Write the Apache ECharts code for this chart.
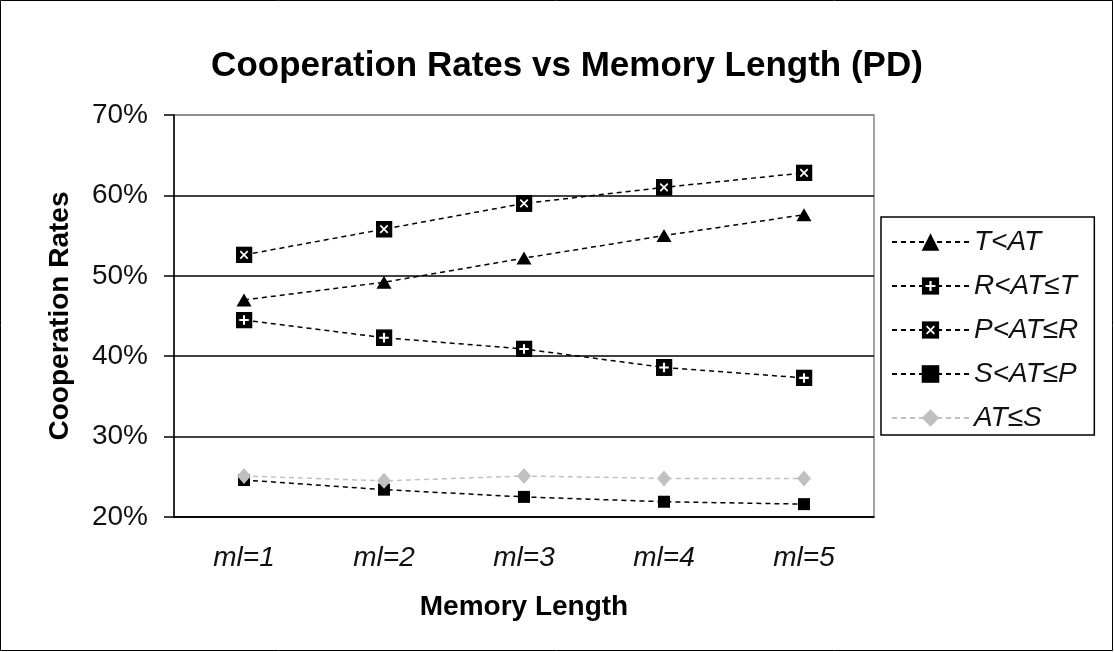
<!DOCTYPE html>
<html><head><meta charset="utf-8">
<script src="https://cdn.jsdelivr.net/npm/echarts@6/dist/echarts.min.js"></script>
<style>html,body{margin:0;padding:0;background:#fff}#c{width:1114px;height:652px}</style>
</head><body><div id="c"></div>
<script>
const categories = ['ml=1','ml=2','ml=3','ml=4','ml=5'];
const seriesNames = ['T<AT','R<AT≤T','P<AT≤R','S<AT≤P','AT≤S'];
const tValues = [47.0, 49.2, 52.2, 55.0, 57.6];
const rValues = [44.5, 42.3, 40.9, 38.6, 37.3];
const pValues = [52.6, 55.8, 59.0, 61.0, 62.8];
const sValues = [24.6, 23.4, 22.5, 21.9, 21.6];
const atValues = [25.1, 24.5, 25.1, 24.8, 24.8];
const yTicks = [20, 30, 40, 50, 60, 70];

const svg = s => 'image://data:image/svg+xml;charset=utf-8,' + encodeURIComponent(s);
const plusSym = svg("<svg xmlns='http://www.w3.org/2000/svg' width='16' height='16'><rect width='16' height='16' fill='black'/><path d='M8 3.5V12.5M3.5 8H12.5' stroke='white' stroke-width='2'/></svg>");
const crossSym = svg("<svg xmlns='http://www.w3.org/2000/svg' width='16' height='16'><rect width='16' height='16' fill='black'/><path d='M4.5 4.5L11.5 11.5M11.5 4.5L4.5 11.5' stroke='white' stroke-width='1.6'/></svg>");

const font = 'Liberation Sans, Arial, sans-serif';
const chart = echarts.init(document.getElementById('c'));
const dash = [5, 4];
function mk(name, data, symbol, size, color) {
  return {
    name, type: 'line', data, symbol, symbolSize: size,
    lineStyle: {color, width: 1.5, type: dash},
    itemStyle: {color},
    emphasis: {disabled: true}
  };
}
chart.setOption({
  animation: false,
  title: {
    text: 'Cooperation Rates vs Memory Length (PD)',
    left: 562, textAlign: 'center', top: 44,
    textStyle: {fontFamily: font, fontSize: 35, fontWeight: 'bold', color: '#000'}
  },
  graphic: [{type: 'rect', shape: {x: 0.5, y: 0.5, width: 1112, height: 650},
    style: {fill: 'none', stroke: '#000', lineWidth: 1}, z: -1}],
  grid: {left: 174, right: 240, top: 115, bottom: 135, show: true, borderColor: '#888', borderWidth: 1.5},
  legend: {
    orient: 'vertical', left: 881, top: 217,
    data: seriesNames,
    itemWidth: 77, itemHeight: 22, itemGap: 16,
    padding: [11, 16, 3, 10],
    borderColor: '#000', borderWidth: 1.5, backgroundColor: '#fff',
    textStyle: {fontFamily: font, fontSize: 28, fontStyle: 'italic', color: '#111'}
  },
  xAxis: {
    type: 'category', data: categories, boundaryGap: true,
    name: 'Memory Length', nameLocation: 'middle', nameGap: 76,
    nameTextStyle: {fontFamily: font, fontSize: 28, fontWeight: 'bold', color: '#000'},
    axisLine: {lineStyle: {color: '#000', width: 1.5}},
    axisTick: {length: 8, lineStyle: {color: '#000', width: 1.5}},
    axisLabel: {fontFamily: font, fontSize: 28, fontStyle: 'italic', color: '#111', margin: 27}
  },
  yAxis: {
    type: 'value', min: 20, max: 70, interval: 10,
    name: 'Cooperation Rates', nameLocation: 'middle', nameGap: 100,
    nameTextStyle: {fontFamily: font, fontSize: 28, fontWeight: 'bold', color: '#000'},
    axisLine: {show: true, lineStyle: {color: '#000', width: 1.5}},
    axisTick: {show: true, length: 10, lineStyle: {color: '#000', width: 1.5}},
    axisLabel: {fontFamily: font, fontSize: 28, color: '#111', margin: 26,
      formatter: v => yTicks.includes(v) ? v + '%' : ''},
    splitLine: {lineStyle: {color: ['#000','#000','#000','#000','#000','#888'], width: 1.5}}
  },
  series: [
    mk(seriesNames[0], tValues, 'triangle', [15, 13], '#000'),
    mk(seriesNames[1], rValues, plusSym, 17, '#000'),
    mk(seriesNames[2], pValues, crossSym, 17, '#000'),
    mk(seriesNames[3], sValues, 'rect', 12, '#000'),
    mk(seriesNames[4], atValues, 'diamond', [14, 16], '#c0c0c0')
  ]
});
</script></body></html>
